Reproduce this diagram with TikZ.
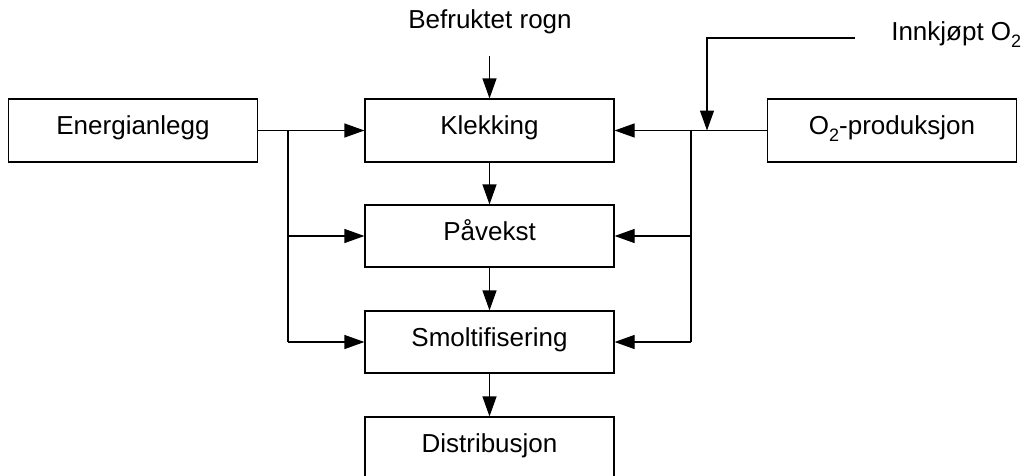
\documentclass[tikz,border=0pt]{standalone}
\usepackage{fontspec}
\setmainfont{Liberation Sans}
\usetikzlibrary{arrows.meta}
\newcommand\subtwo{\raisebox{-0.27em}{\fontsize{13.5}{14}\selectfont 2}}
\begin{document}
\begin{tikzpicture}[x=0.75pt,y=-0.75pt,
  box/.style={draw,line width=0.9pt,minimum width={249*0.75pt},minimum height={63*0.75pt},
    inner sep=0pt,font=\fontsize{19.5}{22}\selectfont,text height=0.6em,text depth=0pt},
  lbl/.style={inner sep=0pt,font=\fontsize{19.5}{22}\selectfont,text height=0.716em,text depth=0pt},
  wire/.style={line width=0.9pt},
  flow/.style={wire,-{Triangle[length=15pt,width=10.5pt]}}]
\useasboundingbox (0,0) rectangle (1021,475);
\clip (0,0) rectangle (1021,475);

% process boxes
\node[box] (energi) at (133,130.5) {Energianlegg};
\node[box] (klekk) at (489.5,130.5) {Klekking};
\node[box,minimum height={62*0.75pt}] (paa) at (489.5,236) {Påvekst};
\node[box,minimum height={62*0.75pt}] (smolt) at (489.5,342) {Smoltifisering};
\node[box,minimum height={62*0.75pt}] (dist) at (489.5,448) {Distribusjon};
\node[box] (o2p) at (892,130.5) {O\subtwo-produksjon};

% free labels
\node[lbl] (rogn) at (490,23.5) {Befruktet rogn};
\node[lbl,anchor=west] (kjop) at (891,36) {Innkjøpt O\subtwo};

% junction points
\coordinate (rognin) at (489.5,56);
\coordinate (l1) at (288,130.5);
\coordinate (l2) at (288,236);
\coordinate (l3) at (288,342);
\coordinate (r1) at (691,130.5);
\coordinate (r2) at (691,236);
\coordinate (r3) at (691,342);
\coordinate (kjopend) at (855,38);
\coordinate (kjopknee) at (707,38);
\coordinate (kjopin) at (707,130.5);

% main chain
\draw[flow] (rognin) -- (klekk.north);
\draw[flow] (klekk.south) -- (paa.north);
\draw[flow] (paa.south) -- (smolt.north);
\draw[flow] (smolt.south) -- (dist.north);

% energy supply
\draw[flow] (energi.east) -- (klekk.west);
\draw[wire] (l1) -- (l3);
\draw[flow] (l2) -- (paa.west);
\draw[flow] (l3) -- (smolt.west);

% oxygen supply
\draw[flow] (o2p.west) -- (klekk.east);
\draw[wire] (r1) -- (r3);
\draw[flow] (r2) -- (paa.east);
\draw[flow] (r3) -- (smolt.east);
\draw[flow] (kjopend) -- (kjopknee) -- (kjopin);
\end{tikzpicture}
\end{document}
